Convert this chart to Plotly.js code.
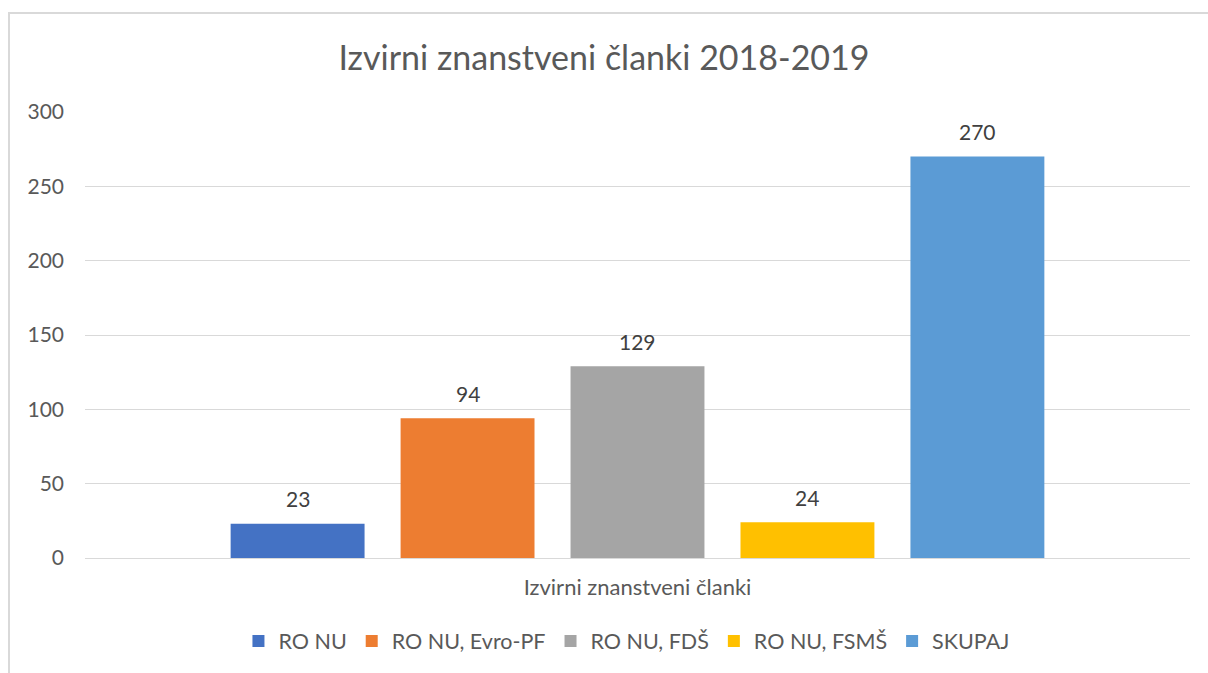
<!DOCTYPE html>
<html><head><meta charset="utf-8">
<script src="https://cdn.plot.ly/plotly-3.0.1.min.js"></script>
<style>
html,body{margin:0;padding:0;overflow:hidden;background:#fff;}
#chart{position:absolute;left:0;top:0;width:1208px;height:673px;}
#frame{position:absolute;left:8px;top:12px;width:1300px;height:800px;border:2px solid #d9d9d9;pointer-events:none;}
</style></head>
<body>
<div id="chart"></div>
<div id="frame"></div>
<script>
const category = ['Izvirni znanstveni članki'];
const seriesNames = ['RO NU', 'RO NU, Evro-PF', 'RO NU, FDŠ', 'RO NU, FSMŠ', 'SKUPAJ'];
const seriesValues = [23, 94, 129, 24, 270];
const seriesColors = ['#4472C4', '#ED7D31', '#A5A5A5', '#FFC000', '#5B9BD5'];
const yTicks = [0, 50, 100, 150, 200, 250, 300];

const FONT = 'Lato, "Liberation Sans", sans-serif';
const W = 1208, H = 673, ML = 85, MR = 18;
const BARGAP = 0.231, BARGROUPGAP = 0.212;
const slot = (W - ML - MR) * (1 - BARGAP) / seriesNames.length;

const traces = seriesNames.map((n, i) => ({
  type: 'bar', name: n, x: category, y: [seriesValues[i]],
  marker: {color: seriesColors[i]},
  hoverinfo: 'skip'
}));

const annotations = seriesNames.map((n, i) => ({
  x: category[0], y: seriesValues[i], xref: 'x', yref: 'y',
  text: String(seriesValues[i]), showarrow: false,
  xshift: (i - (seriesNames.length - 1) / 2) * slot, yshift: 25,
  xanchor: 'center', yanchor: 'middle',
  font: {size: 21, color: '#404040', family: FONT}
}));

const layout = {
  width: W, height: H,
  margin: {l: ML, r: MR, t: 112, b: 115},
  paper_bgcolor: '#fff', plot_bgcolor: '#fff',
  font: {family: FONT, color: '#595959'},
  title: {text: 'Izvirni znanstveni članki 2018-2019', font: {size: 34, color: '#595959', family: FONT},
          x: 0.5, xanchor: 'center', y: 1 - 58/673, yanchor: 'middle', yref: 'container'},
  barmode: 'group', bargap: BARGAP, bargroupgap: BARGROUPGAP,
  showlegend: true,
  legend: {orientation: 'h', x: 0.49, xanchor: 'center', y: -0.186, yanchor: 'middle',
           font: {size: 21.5, color: '#595959', family: FONT}, itemwidth: 30, traceorder: 'normal'},
  annotations: annotations,
  xaxis: {type: 'category', showgrid: false, zeroline: false, showline: false, ticks: '',
          tickfont: {size: 22, color: '#595959', family: FONT}, ticklabelstandoff: 14, fixedrange: true},
  yaxis: {range: [0, 300], tickvals: yTicks, ticktext: yTicks.map(String), showgrid: true,
          gridcolor: '#d9d9d9', gridwidth: 1, zeroline: true, zerolinecolor: '#d9d9d9', zerolinewidth: 1,
          showline: false, ticks: '', tickfont: {size: 21, color: '#595959', family: FONT},
          ticklabelstandoff: 20, fixedrange: true}
};
Plotly.newPlot('chart', traces, layout, {displayModeBar: false, staticPlot: true});
</script>
</body></html>
